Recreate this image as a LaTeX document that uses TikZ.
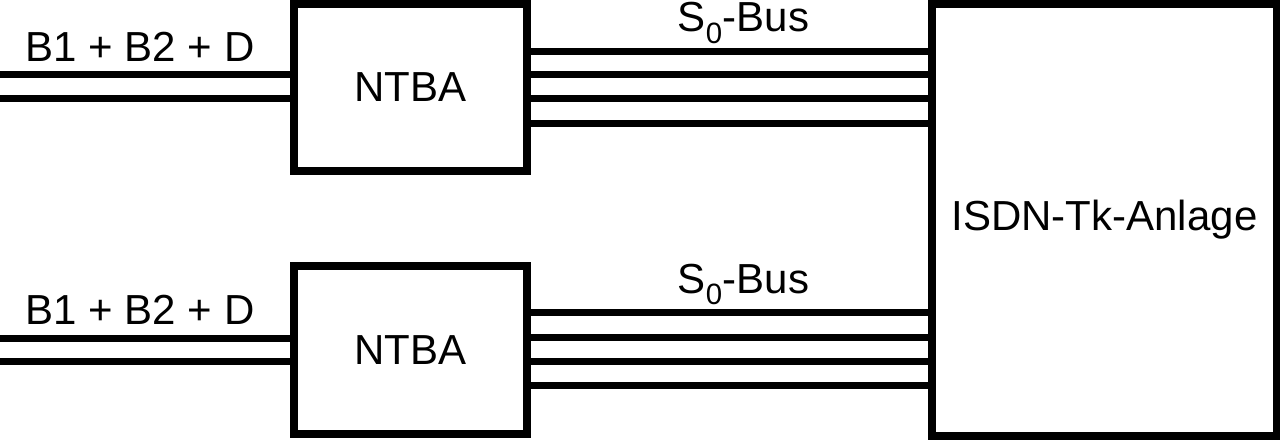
\documentclass[tikz,border=0pt]{standalone}
\usepackage{fontspec}
\setmainfont{Liberation Sans}
\usetikzlibrary{positioning}

\tikzset{
  unit/.style={draw, line width=8pt, inner sep=0pt, font=\fontsize{42}{50}\selectfont},
  wire/.style={line width=7pt},
  lbl/.style={anchor=base, font=\fontsize{42}{50}\selectfont}
}

\begin{document}
\begin{tikzpicture}[x=1pt,y=-1pt]
\useasboundingbox (0,0) rectangle (1280,440);
\node[unit, minimum width=233pt, minimum height=167pt] (ntbaA) at (410.5,87.5) {NTBA};
\node[unit, minimum width=233pt, minimum height=168pt] (ntbaB) at (410.5,350) {NTBA};
\node[unit, minimum width=345pt, minimum height=432pt] (tk) at (1104.5,220) {ISDN-Tk-Anlage};
% B1 + B2 + D
\foreach \n/\y/\k in {A/74.5/1,A/98.5/2,B/338/3,B/361/4}{
  \coordinate (in\k) at (0,\y);
  \draw[wire] (in\k) -- (ntba\n.west |- in\k);
}
% S0-Bus
\foreach \n/\y in {A/51,A/74.5,A/98,A/123.5,B/312,B/337,B/361,B/385}
  \draw[wire] (ntba\n.east |- 0,\y) -- (tk.west |- 0,\y);
\node[lbl] (subA) at (140,61.5) {B1 + B2 + D};
\node[lbl] (subB) at (140,324) {B1 + B2 + D};
\node[lbl] (busA) at (743.5,31.5) {S\textsubscript{0}-Bus};
\node[lbl] (busB) at (743.5,293) {S\textsubscript{0}-Bus};
\end{tikzpicture}
\end{document}
